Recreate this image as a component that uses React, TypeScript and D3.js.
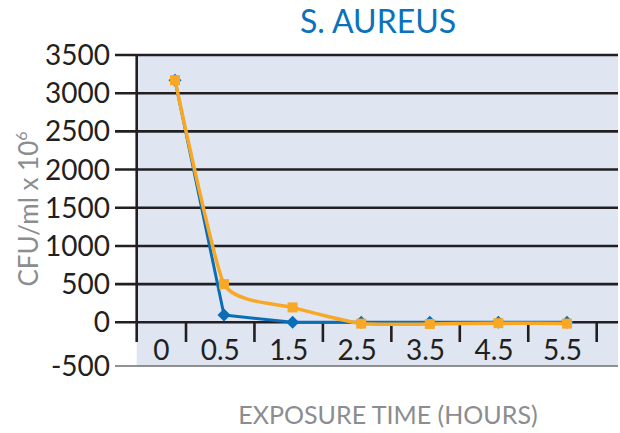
import React from "react";
import * as d3 from "d3";

const categories = ["0", "0.5", "1.5", "2.5", "3.5", "4.5", "5.5"];
const blueValues = [3170, 95, 0, 0, 0, 0, 0];
const orangeValues = [3170, 500, 195, -15, -20, -10, -15];
const yTicks = [3500, 3000, 2500, 2000, 1500, 1000, 500, 0, -500];
const title = "S. AUREUS";
const yTitle = "CFU/ml x 10";
const yTitleSup = "6";
const xTitle = "EXPOSURE TIME (HOURS)";

const W = 620;
const H = 433;
const FONT = "Lato, 'Open Sans', sans-serif";
const BLUE = "#0b6db5";
const ORANGE = "#f8a825";
const DARK = "#231f20";
const GRAY = "#8b8d8f";
const BG = "#dfe6f2";

export default function App() {
  // y: piecewise to match the reference's slightly taller bottom band
  const y = d3.scaleLinear().domain([-500, 0, 3500]).range([366, 322.3, 55]);
  // x boundaries of category bands (first band narrower)
  const xb = d3.scaleLinear().domain([0, 1, 7]).range([136.7, 186, 596.7]);
  // data point positions by category index
  const xp = d3.scaleLinear().domain([0, 1, 6]).range([175, 224, 567]);

  const left = xb(0);
  const right = 618;
  const gridLeft = 115;

  const blueData = categories.map((c, i) => ({ i, v: blueValues[i] }));
  const orangeData = categories.map((c, i) => ({ i, v: orangeValues[i] }));

  const blueLine = d3
    .line<{ i: number; v: number }>()
    .x((d) => xp(d.i))
    .y((d) => y(d.v));
  const orangeLine = d3
    .line<{ i: number; v: number }>()
    .x((d) => xp(d.i))
    .y((d) => y(d.v))
    .curve(d3.curveCardinal.tension(0.5));

  const diamond = (cx: number, cy: number, r: number) =>
    `M${cx},${cy - r}L${cx + r},${cy}L${cx},${cy + r}L${cx - r},${cy}Z`;

  const boundaries = d3.range(1, 8);

  return (
    <svg
      width={W}
      height={H}
      style={{ position: "absolute", left: 0, top: 0, background: "#fff" }}
      fontFamily={FONT}
    >
      {/* plot background */}
      <rect x={left} y={y(3500)} width={right - left} height={y(-500) - y(3500)} fill={BG} />

      {/* -500 line */}
      <line x1={gridLeft} x2={right} y1={y(-500)} y2={y(-500)} stroke="#6d6e70" strokeWidth={1.5} />
      {/* gridlines */}
      {yTicks
        .filter((t) => t >= 0)
        .map((t) => (
          <line key={t} x1={gridLeft} x2={right} y1={y(t)} y2={y(t)} stroke={DARK} strokeWidth={2.6} />
        ))}

      {/* left axis */}
      <line x1={left} x2={left} y1={y(3500) - 1} y2={342} stroke={DARK} strokeWidth={2.6} />
      {/* x ticks */}
      {boundaries
        .filter((b) => xb(b) < right)
        .map((b) => (
          <line key={b} x1={xb(b)} x2={xb(b)} y1={y(0)} y2={342} stroke={DARK} strokeWidth={2.6} />
        ))}

      {/* y tick labels */}
      {yTicks.map((t) => (
        <text
          key={t}
          x={110}
          y={y(t)}
          dy="0.36em"
          textAnchor="end"
          fontSize={28}
          fill={DARK}
        >
          {t}
        </text>
      ))}

      {/* x tick labels */}
      {categories.map((c, i) => (
        <text key={c} x={xb(i + 0.5)} y={360} textAnchor="middle" fontSize={28} fill={DARK}>
          {c}
        </text>
      ))}

      {/* blue series */}
      <path d={blueLine(blueData) || ""} fill="none" stroke={BLUE} strokeWidth={3} strokeLinejoin="round" />
      {blueData.map((d) => (
        <path key={d.i} d={diamond(xp(d.i), y(d.v), 6.5)} fill={BLUE} />
      ))}

      {/* orange series */}
      <path d={orangeLine(orangeData) || ""} fill="none" stroke={ORANGE} strokeWidth={3.5} strokeLinejoin="round" />
      {orangeData.map((d) => (
        <rect key={d.i} x={xp(d.i) - 5} y={y(d.v) - 5} width={10} height={10} fill={ORANGE} />
      ))}

      {/* title */}
      <text x={378} y={33} textAnchor="middle" fontSize={32} fill="#0a72bd">
        {title}
      </text>

      {/* y axis title */}
      <text
        transform={`translate(38,209) rotate(-90)`}
        textAnchor="middle"
        fontSize={26}
        fill={GRAY}
      >
        {yTitle}
        <tspan fontSize={16} dy={-11}>
          {yTitleSup}
        </tspan>
      </text>

      {/* x axis title */}
      <text x={388} y={424} textAnchor="middle" fontSize={25} fill={GRAY}>
        {xTitle}
      </text>
    </svg>
  );
}
